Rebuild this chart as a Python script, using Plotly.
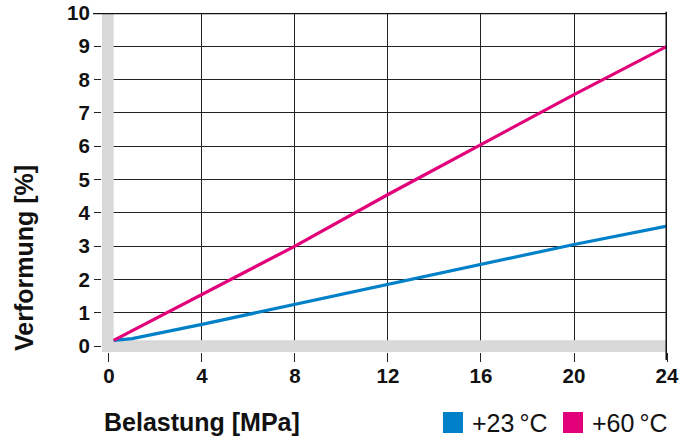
import plotly.graph_objects as go

# Data
x_blue = [0.2, 1, 4, 8, 12, 16, 20, 24]
y_blue = [0.17, 0.22, 0.65, 1.25, 1.85, 2.45, 3.05, 3.6]
x_red = [0.2, 4, 8, 12, 16, 20, 24]
y_red = [0.17, 1.55, 3.0, 4.55, 6.05, 7.55, 9.0]
series_names = ["+23\u2009°C", "+60\u2009°C"]
series_colors = ["#0080c8", "#e2007a"]
x_ticks = [0, 4, 8, 12, 16, 20, 24]
y_ticks = [0, 1, 2, 3, 4, 5, 6, 7, 8, 9, 10]
x_title = "Belastung [MPa]"
y_title = "Verformung [%]"

W, H = 698, 441
L, R, T, B = 102, 31, 13, 89
XR = [-0.3, 24]
YR = [-0.18, 10]
band_gray = "#d8d8d8"
FONT = "Liberation Sans, Arial, Helvetica, sans-serif"
tick_font = dict(family=FONT, size=20.5, color="#111", weight="bold")
title_font = dict(family=FONT, size=25, color="#111", weight="bold")

fig = go.Figure()
fig.add_trace(go.Scatter(x=x_blue, y=y_blue, mode="lines", name=series_names[0],
                         line=dict(color=series_colors[0], width=3.2), showlegend=False))
fig.add_trace(go.Scatter(x=x_red, y=y_red, mode="lines", name=series_names[1],
                         line=dict(color=series_colors[1], width=3.2), showlegend=False))

shapes = [
    # gray bands
    dict(type="rect", xref="x", yref="y", x0=XR[0], x1=0.2, y0=YR[0], y1=YR[1],
         fillcolor=band_gray, line_width=0, layer="between"),
    dict(type="rect", xref="x", yref="y", x0=XR[0], x1=XR[1], y0=YR[0], y1=0.17,
         fillcolor=band_gray, line_width=0, layer="between"),
    # thick top and right frame
    dict(type="line", xref="paper", yref="y", x0=-9 / 565, x1=1, y0=10, y1=10,
         line=dict(color="#111", width=2.5), layer="above"),
    dict(type="line", xref="x", yref="paper", x0=24, x1=24, y0=-8 / 339, y1=1.004,
         line=dict(color="#111", width=3), layer="above"),
]

annotations = [
    dict(text=y_title, xref="paper", yref="paper", x=(24 - L) / 565, y=(352 - 258) / 339,
         textangle=-90, showarrow=False, xanchor="center", yanchor="middle",
         font=title_font),
    dict(text=x_title, xref="paper", yref="paper", x=(102 - L) / 565, y=-(422 - 352) / 339,
         showarrow=False, xanchor="left", yanchor="middle",
         font=title_font),
]

# legend built from series names/colors
leg_sq_x = [443, 563]
for i, name in enumerate(series_names):
    x0 = leg_sq_x[i]
    shapes.append(dict(type="rect", xref="paper", yref="paper",
                       x0=(x0 - L) / 565, x1=(x0 + 20 - L) / 565,
                       y0=-(433 - 352) / 339, y1=-(412 - 352) / 339,
                       fillcolor=series_colors[i], line_width=0))
    annotations.append(dict(text=name, xref="paper", yref="paper",
                            x=(x0 + 27 - L) / 565, y=-(423 - 352) / 339,
                            showarrow=False, xanchor="left", yanchor="middle",
                            font=dict(family=FONT, size=25, color="#111")))

fig.update_layout(
    width=W, height=H,
    margin=dict(l=L, r=R, t=T, b=B, pad=0, autoexpand=False),
    paper_bgcolor="white", plot_bgcolor="white",
    shapes=shapes, annotations=annotations,
    showlegend=False,
)
fig.update_xaxes(range=XR, tickvals=x_ticks, showgrid=True, gridcolor="#222", gridwidth=1,
                 zeroline=False, showline=False, ticks="outside", ticklen=9, tickwidth=1,
                 tickcolor="#222", tickfont=tick_font, fixedrange=True, automargin=False,
                 ticklabelstandoff=-4)
fig.update_yaxes(range=YR, tickvals=y_ticks, showgrid=True, gridcolor="#222", gridwidth=1,
                 zeroline=False, showline=False, ticks="outside", ticklen=7, tickwidth=1,
                 tickcolor="#222", tickfont=tick_font, fixedrange=True, automargin=False)

fig.write_html("out.html", config={"displayModeBar": False},
               post_script="document.body.style.margin='0';document.body.style.overflow='hidden';")
